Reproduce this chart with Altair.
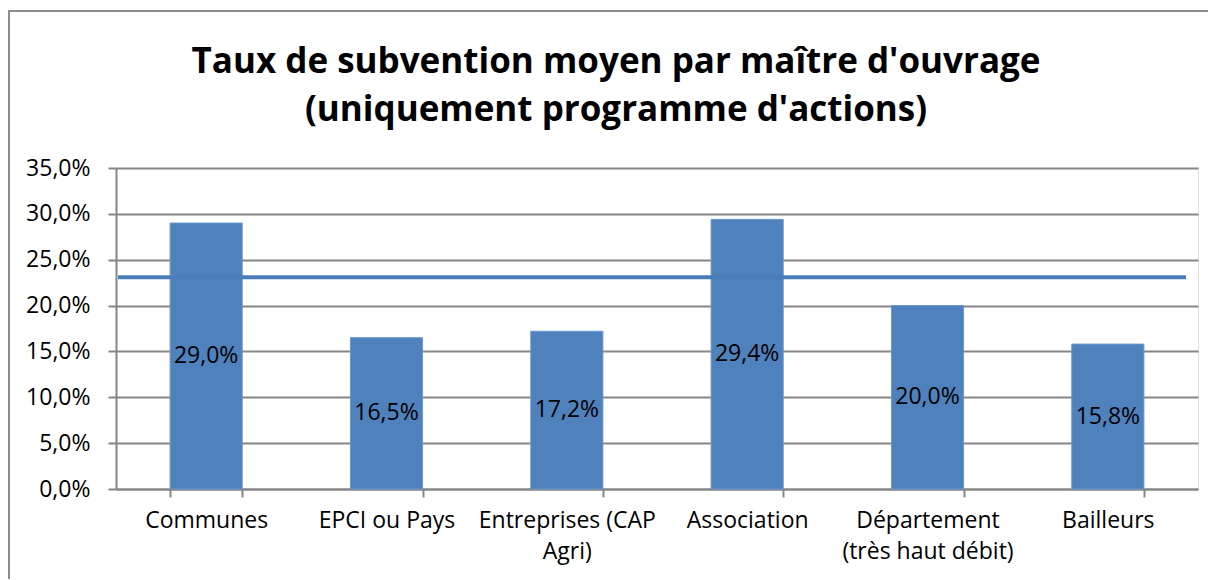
import altair as alt
import pandas as pd

categories = ["Communes", "EPCI ou Pays", "Entreprises (CAP\nAgri)", "Association",
              "Département\n(très haut débit)", "Bailleurs"]
taux = [0.290, 0.165, 0.172, 0.294, 0.200, 0.158]
moyenne = 0.231
y_ticks = [0, 0.05, 0.10, 0.15, 0.20, 0.25, 0.30, 0.35]
title_lines = ["Taux de subvention moyen par maître d'ouvrage", "(uniquement programme d'actions)"]

df = pd.DataFrame({"cat": categories, "v": taux})

FONT = "Open Sans"
BLUE = "#4F81BD"
GRAY = "#868686"
W, H = 1082, 321
FS = 23

x_enc = alt.X("cat:N", sort=categories, title=None,
              scale=alt.Scale(paddingInner=0.6, paddingOuter=0.3),
              axis=alt.Axis(labelExpr="split(datum.label, '\\n')", labelAngle=0,
                            labelFont=FONT, labelFontSize=FS, labelColor="black",
                            labelPadding=12, labelLineHeight=31,
                            tickBand="extent", tickSize=8, tickColor=GRAY, tickWidth=2,
                            domainColor=GRAY, domainWidth=2, grid=False))
y_scale = alt.Scale(domain=[0, 0.35], nice=False)

bars = alt.Chart(df).mark_bar(color=BLUE, stroke="#6d97cc", strokeWidth=1).encode(
    x=x_enc,
    y=alt.Y("v:Q", scale=y_scale, title=None,
            axis=alt.Axis(values=y_ticks,
                          labelExpr="replace(format(datum.value, '.1%'), '.', ',')",
                          labelFont=FONT, labelFontSize=FS, labelColor="black",
                          labelPadding=18, tickSize=8, tickColor=GRAY, tickWidth=2,
                          domainColor=GRAY, domainWidth=2,
                          gridColor=GRAY, gridWidth=2)),
)

labels = alt.Chart(df).transform_calculate(
    mid="datum.v / 2",
    txt="replace(format(datum.v, '.1%'), '.', ',')",
).mark_text(font=FONT, fontSize=FS, color="black", baseline="middle").encode(
    x=alt.X("cat:N", sort=categories),
    y=alt.Y("mid:Q", scale=y_scale),
    text="txt:N",
)

avg = alt.Chart(pd.DataFrame({"m": [moyenne]})).mark_rule(color="#4A7EBB", strokeWidth=4).encode(
    y=alt.Y("m:Q", scale=y_scale),
    x=alt.value(2), x2=alt.value(1070),
)

frame = alt.Chart(pd.DataFrame({"m": [0]})).mark_rect(
    fillOpacity=0, stroke="#8c8c8c", strokeWidth=2).encode(
    x=alt.value(-107), x2=alt.value(W + 200),
    y=alt.value(-157), y2=alt.value(H + 200),
)

title = alt.Chart(pd.DataFrame({"m": [0]})).mark_text(
    font=FONT, fontSize=35, fontWeight="bold", color="black",
    align="center", baseline="alphabetic", lineHeight=48,
).encode(
    x=alt.value(500), y=alt.value(-95), text=alt.value(title_lines),
)

chart = alt.layer(frame, bars, avg, labels, title).properties(
    width=W, height=H,
    padding={"left": 108, "top": 160, "right": 10, "bottom": 90},
    autosize=alt.AutoSizeParams(type="none"),
).configure_view(stroke=None).configure(background="white")

chart.save("out.html", embed_options={"renderer": "svg", "actions": False})
